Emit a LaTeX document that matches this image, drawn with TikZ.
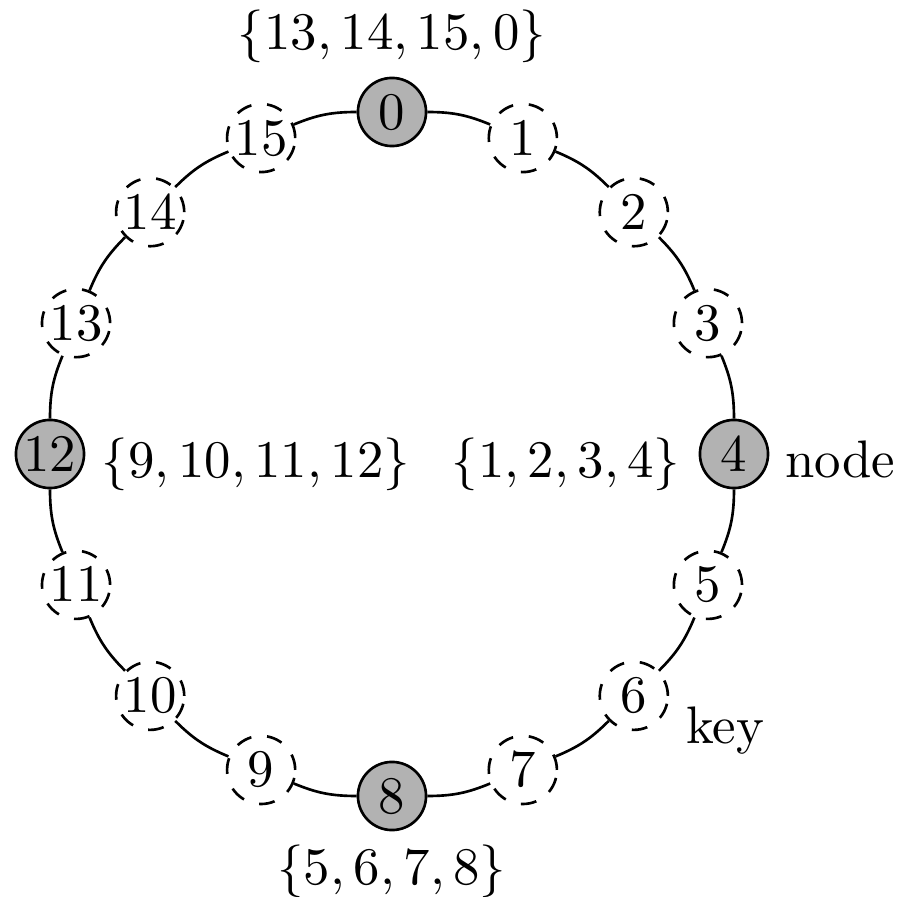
\documentclass[tikz,border=0pt]{standalone}
\begin{document}
\begin{tikzpicture}[x=0.18939pt, y=0.18939pt,
  ringnode/.style={circle, draw, line width=0.5pt, fill=white, inner sep=0pt, minimum size=12.9pt},
  keynode/.style={ringnode, dashed},
  peernode/.style={ringnode, fill=gray!60},
  ringarc/.style={line width=0.5pt, bend left=11.25}]
  \useasboundingbox (-392,-443) rectangle (506,454);
  % sixteen positions on the ring, clockwise from the top
  \foreach \k in {0,...,15} {
    \pgfmathtruncatemacro{\m}{mod(\k,4)}
    \ifnum\m=0
      \node[peernode] (n\k) at ({90-22.5*\k}:342) {$\k$};
    \else
      \node[keynode] (n\k) at ({90-22.5*\k}:342) {$\k$};
    \fi
  }
  % ring segments between neighbouring positions
  \foreach \k in {0,...,15} {
    \pgfmathtruncatemacro{\nx}{mod(\k+1,16)}
    \draw[ringarc] (n\k) to (n\nx);
  }
  % key ranges held by each node
  \node[anchor=base] (r0) at (0,404) {$\{13,14,15,0\}$};
  \node[anchor=base] (r8) at (0,-431) {$\{5,6,7,8\}$};
  \node[anchor=base] (r12) at (-136,-24) {$\{9,10,11,12\}$};
  \node[anchor=base] (r4) at (174,-24) {$\{1,2,3,4\}$};
  % legend words
  \node[anchor=base west, inner sep=0pt] (lnode) at (392,-24) {node};
  \node[anchor=base] (lkey) at (333,-289) {key};
\end{tikzpicture}
\end{document}
